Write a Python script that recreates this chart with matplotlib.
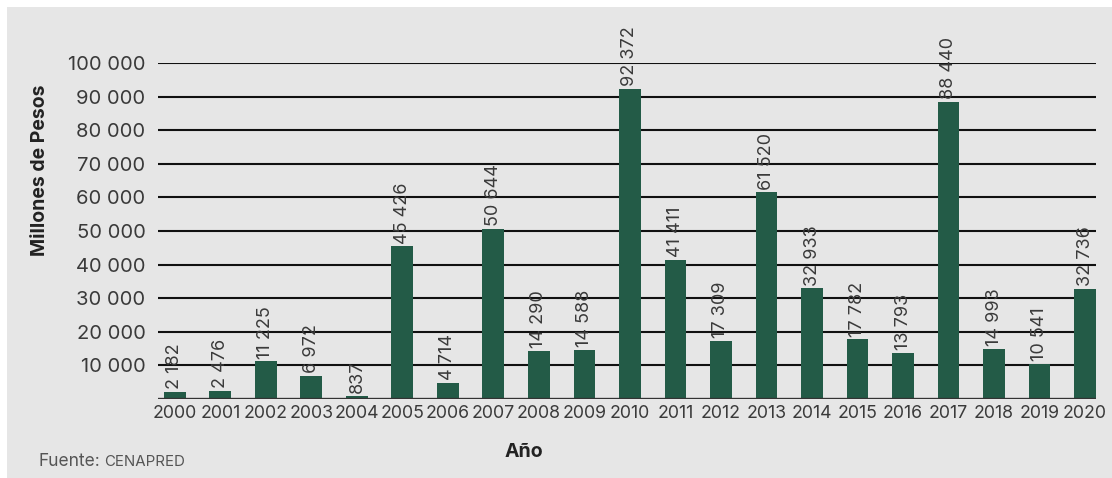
import matplotlib.pyplot as plt
from matplotlib.patches import Rectangle

# daños por año (millones de pesos)
years = [str(y) for y in range(2000, 2021)]
damages = [2182, 2476, 11225, 6972, 837, 45426, 4714, 50644, 14290, 14588,
           92372, 41411, 17309, 61520, 32933, 17782, 13793, 88440, 14993,
           10541, 32736]
y_ticks = list(range(10000, 100001, 10000))

bar_color = '#235b47'
text_color = '#3a3a3a'


def fmt_miles(v):
    return f'{v:,}'.replace(',', ' ')


plt.rcParams['font.family'] = ['Inter', 'DejaVu Sans']

fig = plt.figure(figsize=(11.12, 4.78), dpi=100)
fig.patch.set_facecolor('white')
fig.patches.append(Rectangle((7 / 1112, 0), 1, 1 - 7 / 478, transform=fig.transFigure,
                             facecolor='#e6e6e6', edgecolor='none', zorder=-10))

ax = fig.add_axes([158 / 1112, 1 - 399 / 478, (1096 - 158) / 1112, (399 - 63) / 478])
ax.set_facecolor('none')
ax.set_zorder(2)

x = list(range(len(years)))
ax.bar(x, damages, width=0.48, color=bar_color, zorder=3)

for yv in y_ticks:
    ax.axhline(yv, color='#111111', lw=1.5, zorder=2)
ax.axhline(0, color='#333333', lw=2.4, zorder=4)

for xi, v in zip(x, damages):
    ax.text(xi, v + 800, fmt_miles(v), rotation=90, ha='center', va='bottom',
            fontsize=13, color=text_color, zorder=5, clip_on=False)

ax.set_xlim(-0.37, 20.24)
ax.set_ylim(0, 100000)
ax.set_xticks(x)
ax.set_xticklabels(years, fontsize=12.8, color=text_color)
ax.set_yticks(y_ticks)
ax.set_yticklabels([fmt_miles(v) for v in y_ticks], fontsize=14.5, color=text_color)
ax.tick_params(axis='both', length=0)
ax.tick_params(axis='x', pad=4)
ax.tick_params(axis='y', pad=9)
for s in ax.spines.values():
    s.set_visible(False)

fig.text(40 / 1112, 1 - 170 / 478, 'Millones de Pesos', rotation=90, ha='center',
         va='center', fontsize=14, fontweight='bold', color='#222222')
fig.text(524 / 1112, 1 - 452 / 478, 'Año', ha='center', va='center',
         fontsize=14, fontweight='bold', color='#222222')
fig.text(39 / 1112, 1 - 461 / 478, 'Fuente:', ha='left', va='center',
         fontsize=12.5, color='#555555')
fig.text(104 / 1112, 1 - 462 / 478, 'CENAPRED', ha='left', va='center',
         fontsize=10.8, color='#555555')

fig.savefig('out.png', dpi=100)
